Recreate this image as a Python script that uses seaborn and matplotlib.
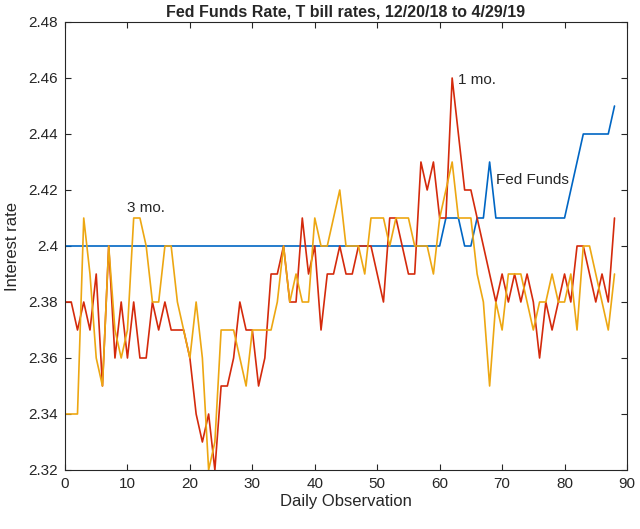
import numpy as np
import pandas as pd
import matplotlib
matplotlib.use('Agg')
import matplotlib.pyplot as plt
import seaborn as sns

days = np.arange(89)
fed_funds = [2.40] * 61 + [2.41, 2.41, 2.41, 2.40, 2.40, 2.41, 2.41, 2.43] + [2.41] * 12 + [2.42, 2.43, 2.44, 2.44, 2.44, 2.44, 2.44, 2.45]
one_month = [2.38, 2.38, 2.37, 2.38, 2.37, 2.39, 2.35, 2.40, 2.36, 2.38,
             2.36, 2.38, 2.36, 2.36, 2.38, 2.37, 2.38, 2.37, 2.37, 2.37,
             2.36, 2.34, 2.33, 2.34, 2.32, 2.35, 2.35, 2.36, 2.38, 2.37,
             2.37, 2.35, 2.36, 2.39, 2.39, 2.40, 2.38, 2.38, 2.41, 2.39,
             2.40, 2.37, 2.39, 2.39, 2.40, 2.39, 2.39, 2.40, 2.40, 2.40,
             2.39, 2.38, 2.41, 2.41, 2.40, 2.39, 2.39, 2.43, 2.42, 2.43,
             2.41, 2.41, 2.46, 2.44, 2.42, 2.42, 2.41, 2.40, 2.39, 2.38,
             2.39, 2.38, 2.39, 2.38, 2.39, 2.38, 2.36, 2.38, 2.37, 2.38,
             2.39, 2.38, 2.40, 2.40, 2.39, 2.38, 2.39, 2.38, 2.41]
three_month = [2.34, 2.34, 2.34, 2.41, 2.39, 2.36, 2.35, 2.40, 2.37, 2.36,
               2.37, 2.41, 2.41, 2.40, 2.38, 2.38, 2.40, 2.40, 2.38, 2.37,
               2.36, 2.38, 2.36, 2.32, 2.33, 2.37, 2.37, 2.37, 2.36, 2.35,
               2.37, 2.37, 2.37, 2.37, 2.38, 2.40, 2.38, 2.39, 2.38, 2.38,
               2.41, 2.40, 2.40, 2.41, 2.42, 2.40, 2.40, 2.40, 2.39, 2.41,
               2.41, 2.41, 2.40, 2.41, 2.41, 2.41, 2.40, 2.40, 2.40, 2.39,
               2.41, 2.42, 2.43, 2.41, 2.41, 2.41, 2.39, 2.38, 2.35, 2.38,
               2.37, 2.39, 2.39, 2.39, 2.38, 2.37, 2.38, 2.38, 2.39, 2.38,
               2.38, 2.39, 2.37, 2.40, 2.40, 2.39, 2.38, 2.37, 2.39]

df = pd.DataFrame({'day': days, 'ff': fed_funds, 'm1': one_month, 'm3': three_month})

sns.set_style('ticks')
plt.rcParams['font.family'] = ['Liberation Sans', 'DejaVu Sans']

fig = plt.figure(figsize=(6.4, 5.29), dpi=100)
ax = fig.add_axes([65 / 640, 1 - 470 / 529, 562 / 640, 448 / 529])

sns.lineplot(data=df, x='day', y='ff', ax=ax, color='#0066C4', linewidth=1.2)
sns.lineplot(data=df, x='day', y='m1', ax=ax, color='#D42A0C', linewidth=1.2)
sns.lineplot(data=df, x='day', y='m3', ax=ax, color='#EDA712', linewidth=1.2)

ax.text(10, 2.412, '3 mo.', fontsize=11)
ax.text(63, 2.458, '1 mo.', fontsize=11)
ax.text(69, 2.422, 'Fed Funds', fontsize=11)

ax.set_xlim(0, 90)
ax.set_ylim(2.32, 2.48)
ax.set_xticks(range(0, 91, 10))
ax.set_yticks(np.arange(2.32, 2.481, 0.02))
ax.set_yticklabels(['2.32', '2.34', '2.36', '2.38', '2.4', '2.42', '2.44', '2.46', '2.48'])
ax.tick_params(direction='in', top=True, right=True, labelsize=11, length=4, pad=5)
for s in ax.spines.values():
    s.set_visible(True)
    s.set_linewidth(0.8)
ax.set_xlabel('Daily Observation', fontsize=12, labelpad=2)
ax.set_ylabel('Interest rate', fontsize=12, labelpad=6)
ax.set_title('Fed Funds Rate, T bill rates, 12/20/18 to 4/29/19', fontsize=11.5, fontweight='bold', pad=4)

fig.savefig('out.png', dpi=100)
